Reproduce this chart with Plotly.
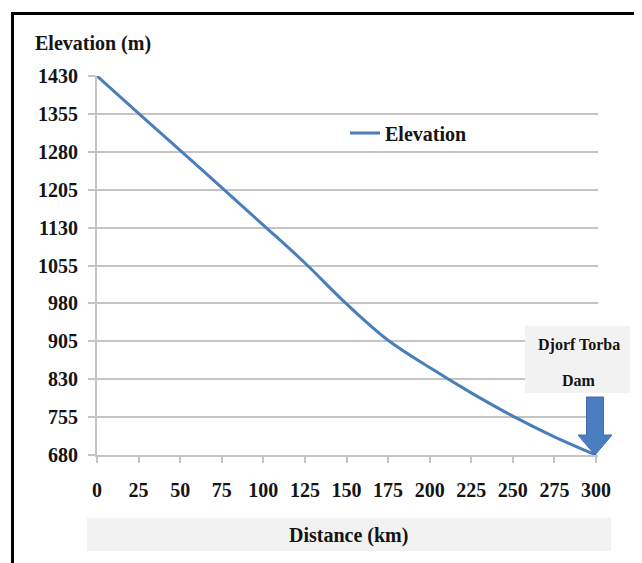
import plotly.graph_objects as go

# ---- data ----
distance_km = [0, 25, 50, 75, 100, 125, 150, 175, 200, 225, 250, 275, 300]
elevation_m = [1430, 1356, 1283, 1209, 1135, 1060, 979, 907, 853, 803, 757, 716, 680]
y_ticks = [680, 755, 830, 905, 980, 1055, 1130, 1205, 1280, 1355, 1430]
x_ticks = [0, 25, 50, 75, 100, 125, 150, 175, 200, 225, 250, 275, 300]
series_name = "Elevation"
dam_km = 300
dam_label = ["Djorf Torba", "Dam"]

X_RANGE = [0, 301.2]
Y_RANGE = [680, 1430]

FONT = "Liberation Serif, Times New Roman, serif"
TXT = "#141414"
GRID = "#c4c4c4"
BLUE = "#4a7ebb"

# page body has an 8px margin; compensate so the figure lands at the window origin
OFF = 8
W, H = 642 - OFF, 563 - OFF
L, R, T, B = 97 - OFF, 44, 76 - OFF, 108
PW, PH = W - L - R, H - T - B


def px_x(p):
    # p: pixel position in the window
    return (p - OFF - L) / PW


def px_y(p):
    return (H + OFF - B - p) / PH


fig = go.Figure()
fig.add_trace(go.Scatter(
    x=distance_km, y=elevation_m, mode="lines", name=series_name,
    line=dict(color=BLUE, width=3, shape="spline", smoothing=1.0),
    cliponaxis=False,
))

xa = (dam_km - X_RANGE[0]) / (X_RANGE[1] - X_RANGE[0])
ya = (elevation_m[-1] - Y_RANGE[0]) / (Y_RANGE[1] - Y_RANGE[0])

shapes = [
    # outer frame (left and top)
    dict(type="line", xref="paper", yref="paper", x0=px_x(12.5), x1=px_x(12.5),
         y0=px_y(570), y1=px_y(12), line=dict(color="black", width=3)),
    dict(type="line", xref="paper", yref="paper", x0=px_x(11), x1=px_x(650),
         y0=px_y(13.5), y1=px_y(13.5), line=dict(color="black", width=3)),
    # x title box
    dict(type="rect", xref="paper", yref="paper", x0=px_x(87), x1=px_x(611),
         y0=px_y(551), y1=px_y(518), fillcolor="#f2f2f2", line=dict(width=0),
         layer="below"),
    # dam label box
    dict(type="rect", xref="paper", yref="paper", xsizemode="pixel", ysizemode="pixel",
         xanchor=xa, yanchor=ya, x0=-71, x1=34, y0=62, y1=129,
         fillcolor="#f2f2f2", line=dict(width=0)),
    # dam arrow
    dict(type="path", xref="paper", yref="paper", xsizemode="pixel", ysizemode="pixel",
         xanchor=xa, yanchor=ya,
         path="M -1 0 L -18 20 L -9.5 20 L -9.5 58 L 7.5 58 L 7.5 20 L 16 20 Z",
         fillcolor="#4a7ec0", line=dict(color="#3d6ca8", width=1)),
]

annotations = [
    dict(text="<b>Elevation (m)</b>", xref="paper", yref="paper", x=px_x(33), y=px_y(43),
         xanchor="left", yanchor="middle", showarrow=False,
         font=dict(family=FONT, size=20, color=TXT)),
    dict(text="<b>Distance (km)</b>", xref="paper", yref="paper", x=px_x(348), y=px_y(535),
         xanchor="center", yanchor="middle", showarrow=False,
         font=dict(family=FONT, size=20, color=TXT)),
    dict(text="<b>%s</b>" % dam_label[0], xref="paper", yref="paper", x=xa, y=ya,
         xshift=-17, yshift=110, xanchor="center", yanchor="middle", showarrow=False,
         font=dict(family=FONT, size=16, color=TXT)),
    dict(text="<b>%s</b>" % dam_label[1], xref="paper", yref="paper", x=xa, y=ya,
         xshift=-17, yshift=75, xanchor="center", yanchor="middle", showarrow=False,
         font=dict(family=FONT, size=16, color=TXT)),
]

fig.update_layout(
    width=W, height=H,
    margin=dict(l=L, r=R, t=T, b=B, pad=0),
    paper_bgcolor="white", plot_bgcolor="white",
    font=dict(family=FONT, color=TXT),
    showlegend=True,
    legend=dict(x=px_x(345), y=px_y(133), xanchor="left", yanchor="middle",
                bgcolor="rgba(0,0,0,0)", itemwidth=30,
                font=dict(family=FONT, size=20, color=TXT, weight="bold")),
    shapes=shapes,
    annotations=annotations,
    xaxis=dict(range=X_RANGE, tickvals=x_ticks, showgrid=False, zeroline=False,
               showline=True, linecolor=GRID, linewidth=2,
               ticks="outside", ticklen=6, tickwidth=2, tickcolor=GRID,
               ticklabelstandoff=10,
               tickfont=dict(family=FONT, size=20, color=TXT, weight="bold")),
    yaxis=dict(range=Y_RANGE, tickvals=y_ticks, showgrid=True, gridcolor=GRID, gridwidth=2,
               zeroline=False, showline=True, linecolor=GRID, linewidth=2,
               ticks="outside", ticklen=7, tickwidth=2, tickcolor=GRID,
               ticklabelstandoff=6,
               tickfont=dict(family=FONT, size=20, color=TXT, weight="bold")),
)

fig.write_html("out.html")
